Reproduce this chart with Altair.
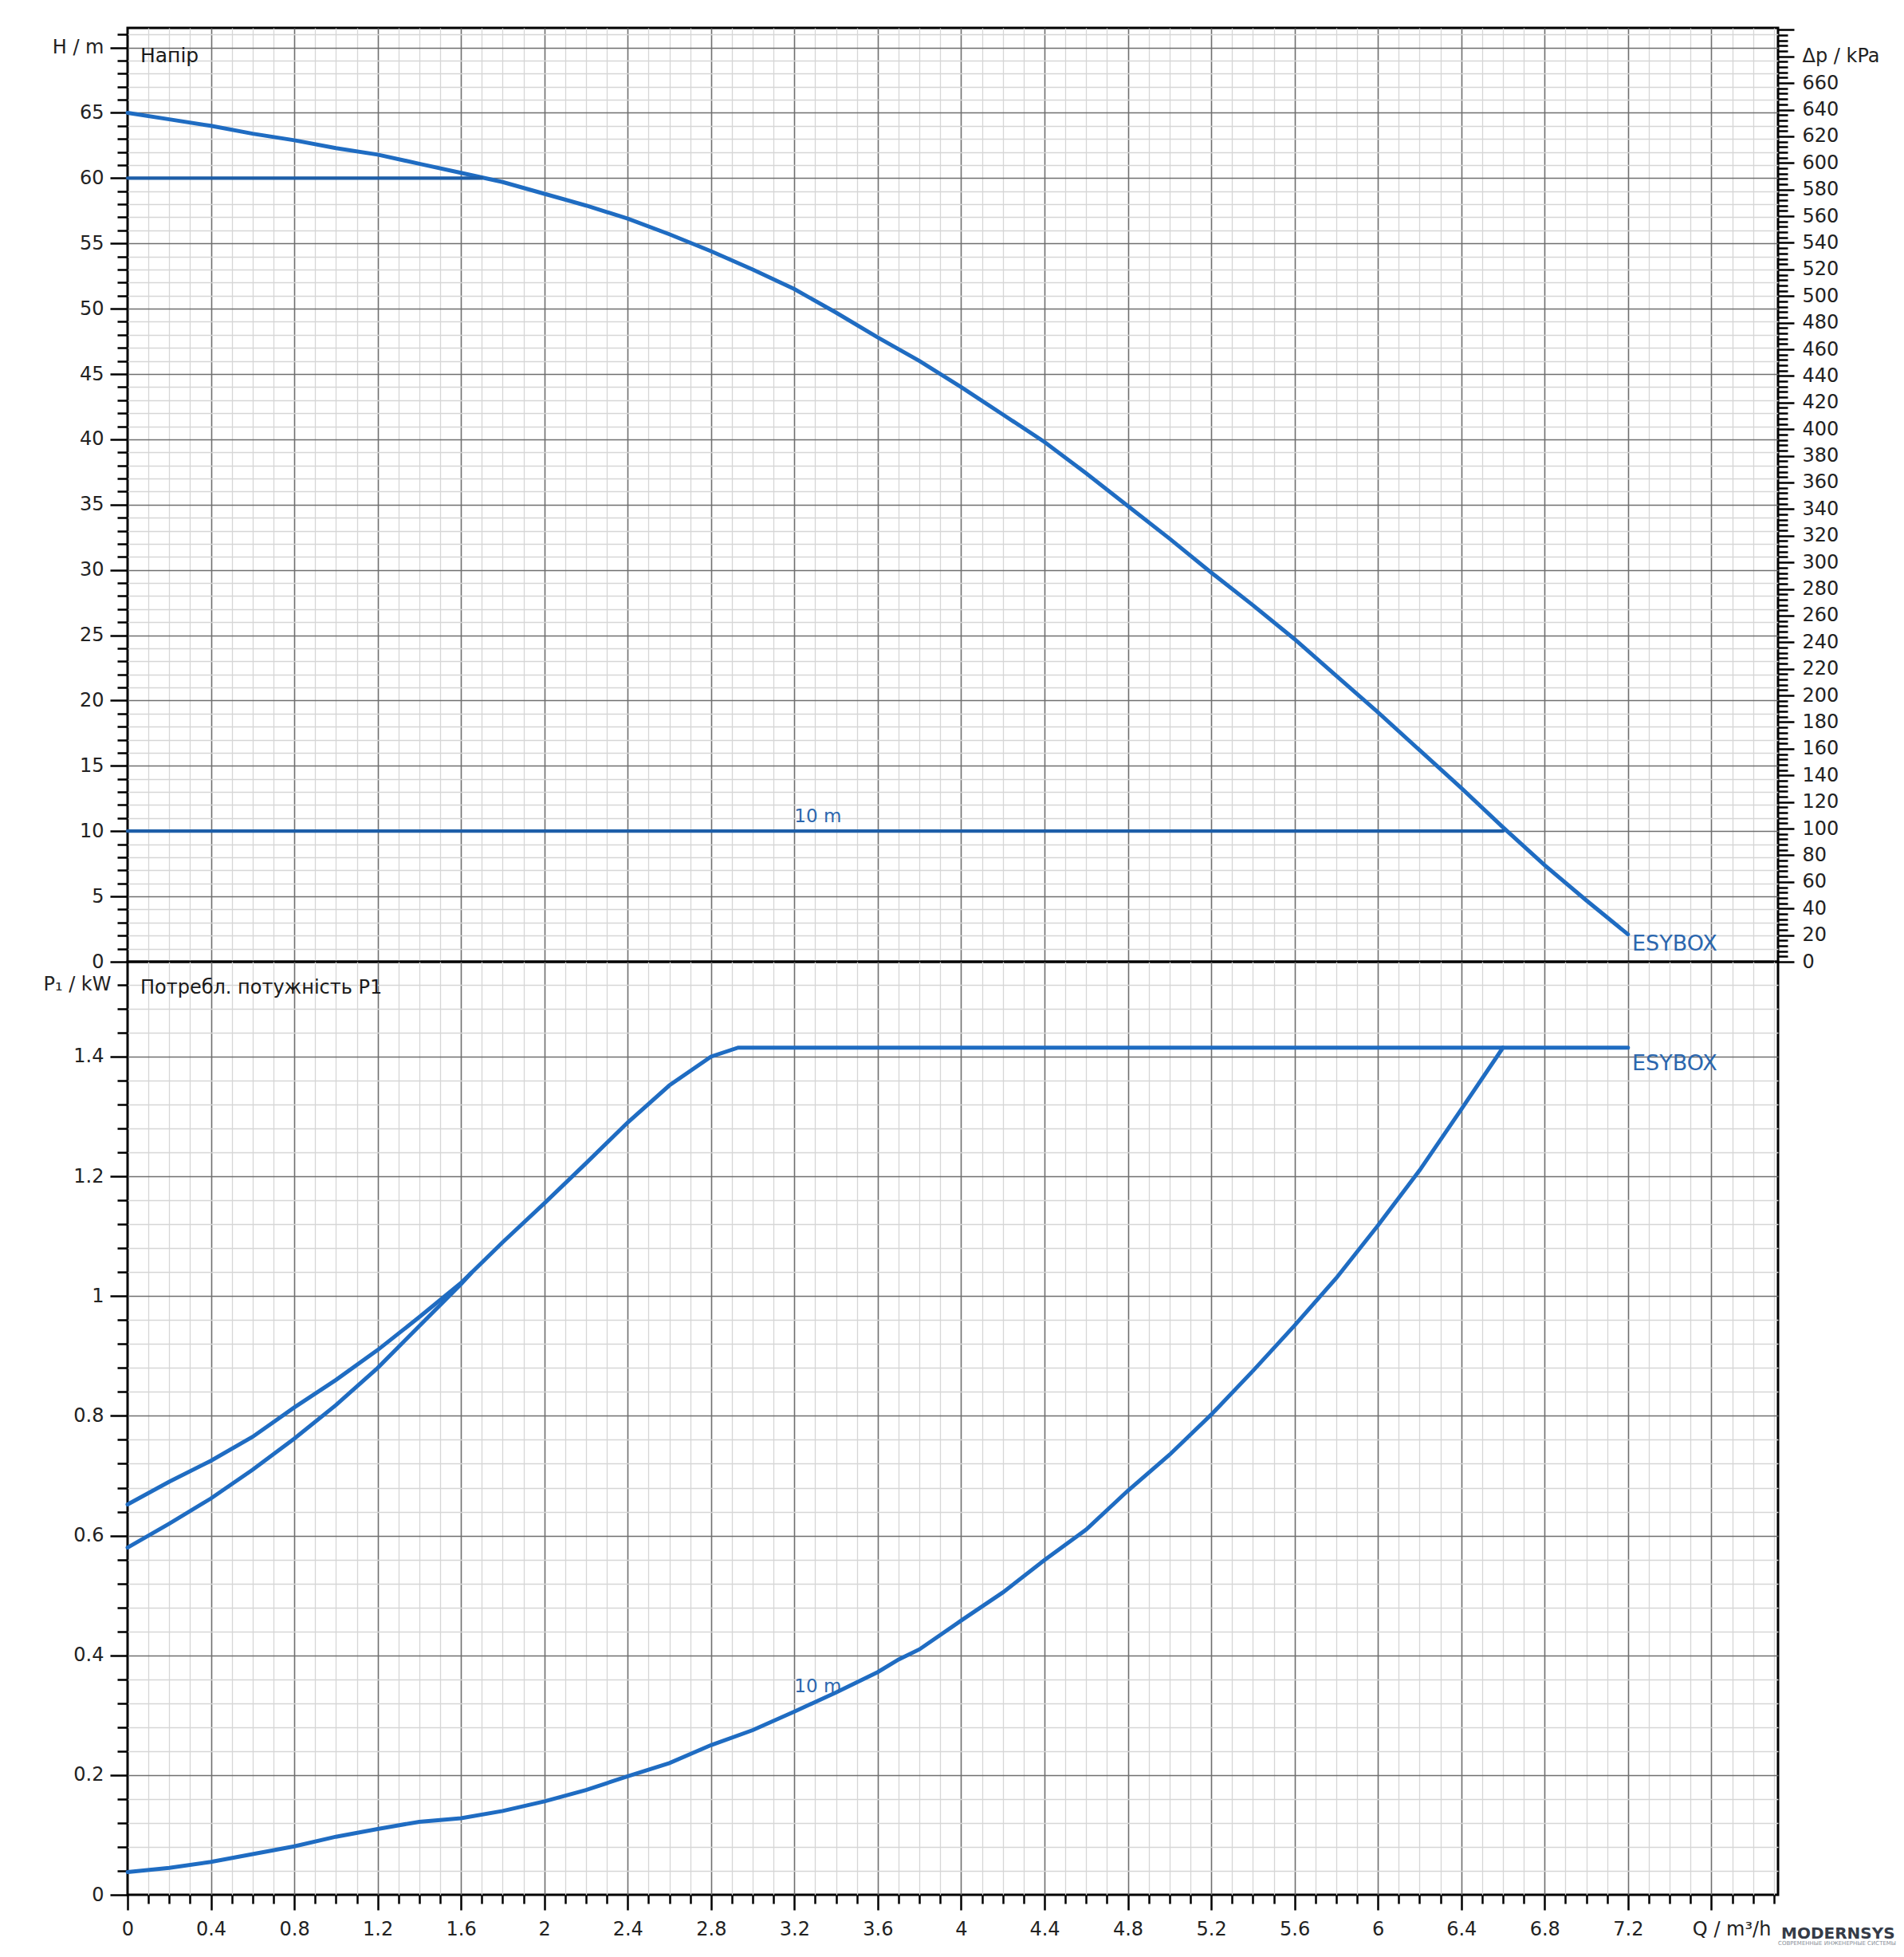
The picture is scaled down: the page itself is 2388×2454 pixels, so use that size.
import altair as alt
import pandas as pd

# ---------------- data ----------------
# Head curve H (m) vs flow Q (m3/h)
Q_ESY = [0, 0.2, 0.4, 0.6, 0.8, 1.0, 1.2, 1.4, 1.6, 1.8, 2.0, 2.2, 2.4, 2.6, 2.8, 3.0,
         3.2, 3.4, 3.6, 3.8, 4.0, 4.2, 4.4, 4.6, 4.8, 5.0, 5.2, 5.4, 5.6, 5.8, 6.0, 6.2,
         6.4, 6.6, 6.8, 7.0, 7.2]
H_ESY = [65.0, 64.5, 64.0, 63.4, 62.9, 62.3, 61.8, 61.1, 60.4, 59.7, 58.8, 57.9, 56.9,
         55.7, 54.4, 53.0, 51.5, 49.7, 47.8, 46.0, 44.0, 41.9, 39.8, 37.4, 34.9, 32.4,
         29.8, 27.3, 24.7, 21.9, 19.1, 16.2, 13.3, 10.3, 7.4, 4.7, 2.1]
Q_SET60 = [0, 1.7]
H_SET60 = [60, 60]
Q_SET10 = [0, 6.6]
H_SET10 = [10, 10]

# Power curve P1 (kW) vs flow Q (m3/h)
Q_P_ESY = [0, 0.2, 0.4, 0.6, 0.8, 1.0, 1.2, 1.4, 1.6, 1.8, 2.0, 2.2, 2.4, 2.6, 2.8, 2.93, 7.2]
P_ESY = [0.652, 0.69, 0.725, 0.765, 0.814, 0.86, 0.91, 0.965, 1.022, 1.09, 1.155, 1.222,
         1.29, 1.352, 1.40, 1.415, 1.415]
Q_P_60 = [0, 0.2, 0.4, 0.6, 0.8, 1.0, 1.2, 1.4, 1.6, 1.65]
P_60 = [0.58, 0.62, 0.662, 0.71, 0.762, 0.818, 0.88, 0.95, 1.02, 1.039]
Q_P_10 = [0, 0.2, 0.4, 0.6, 0.8, 1.0, 1.2, 1.4, 1.6, 1.8, 2.0, 2.2, 2.4, 2.6, 2.8, 3.0,
          3.2, 3.4, 3.6, 3.7, 3.8, 4.0, 4.2, 4.4, 4.6, 4.8, 5.0, 5.2, 5.4, 5.6, 5.8, 6.0,
          6.2, 6.4, 6.6]
P_10 = [0.038, 0.045, 0.055, 0.068, 0.081, 0.097, 0.11, 0.122, 0.128, 0.14, 0.156, 0.175,
        0.198, 0.22, 0.25, 0.275, 0.306, 0.338, 0.372, 0.393, 0.41, 0.458, 0.505, 0.559,
        0.61, 0.675, 0.735, 0.802, 0.875, 0.951, 1.03, 1.118, 1.21, 1.312, 1.415]

# tick positions
X_TICKS = [round(i * 0.1, 1) for i in range(0, 80)]      # 0 .. 7.9
H_TICKS = list(range(0, 72))                              # 0 .. 71 m
KPA_TICKS = list(range(0, 701, 4))                        # 0 .. 700 kPa
P_TICKS = [round(i * 0.04, 2) for i in range(0, 39)]      # 0 .. 1.52 kW

Q_DOMAIN = [0, 7.92]
H_DOMAIN = [0, 71.5]
KPA_DOMAIN = [0, 71.5 * 9.81]
P_DOMAIN = [0, 1.5585]

# ---------------- styling ----------------
BLUE = "#1f6cc2"
BLUE_DARK = "#1d5ea8"
TXT_BLUE = "#2c67ae"
MAJOR_C = "#6f6f6f"
MINOR_C = "#d6d6d6"
FONT = "DejaVu Sans"
W = 2070
H_TOP = 1171
H_BOT = 1170


def cond(test, a, b):
    return {"condition": {"test": test, "value": a}, "value": b}


X_MAJOR = "abs(datum.value / 0.4 - round(datum.value / 0.4)) < 0.001"
Q_TEST = "datum.value > 7.55 && datum.value < 7.65"
H_MAJOR = "datum.value % 5 == 0"
P_MAJOR = "abs(datum.value / 0.2 - round(datum.value / 0.2)) < 0.001"
K_MAJOR = "datum.value % 20 == 0"
ZERO = "datum.value == 0"

grid_x = dict(grid=True, gridColor=cond(X_MAJOR, MAJOR_C, MINOR_C),
              gridWidth=cond(X_MAJOR, 1.6, 1.3), gridOpacity=cond(ZERO, 0, 1))

x_axis_top = alt.Axis(values=X_TICKS, labels=False, ticks=False, domain=False, title=None, **grid_x)
x_axis_bot = alt.Axis(
    values=X_TICKS, domain=False, title=None, ticks=True, tickColor="black", tickWidth=2.5,
    tickSize=cond(X_MAJOR, 19, 11),
    labelExpr=f"({Q_TEST}) ? 'Q / m³/h' : (({X_MAJOR}) && datum.value < 7.3 ? format(datum.value, '~g') : '')",
    labelFontSize=24, labelPadding=12, labelFlush=False, labelOverlap=False, labelColor="#222",
    labelAlign=cond(Q_TEST, "left", "center"), labelOffset=cond(Q_TEST, -24, 0),
    **grid_x)

h_axis = alt.Axis(
    values=H_TICKS, domain=False, title=None, tickColor="black", tickWidth=2.5,
    tickSize=cond(H_MAJOR, 22, 13),
    labelExpr=f"datum.value == 70 ? 'H / m' : (({H_MAJOR}) ? datum.label : '')",
    labelFontSize=24, labelPadding=8, labelOverlap=False, labelFlush=False, labelColor="#222",
    grid=True, gridColor=cond(H_MAJOR, MAJOR_C, MINOR_C), gridWidth=cond(H_MAJOR, 1.6, 1.3),
    gridOpacity=cond(ZERO, 0, 1))

kpa_axis = alt.Axis(
    orient="right", values=KPA_TICKS, domain=False, title=None, tickColor="black", tickWidth=2.5,
    tickSize=cond(K_MAJOR, 20, 12),
    labelExpr=f"datum.value == 680 ? 'Δp / kPa' : (({K_MAJOR}) && datum.value <= 660 ? datum.label : '')",
    labelFontSize=24, labelPadding=10, labelOverlap=False, labelFlush=False, labelColor="#222",
    grid=False)

p_axis = alt.Axis(
    values=P_TICKS, domain=False, title=None, tickColor="black", tickWidth=2.5,
    tickSize=cond(P_MAJOR, 22, 13),
    labelExpr=f"datum.value > 1.5 ? 'P₁ / kW' : (({P_MAJOR}) ? format(datum.value, '~g') : '')",
    labelFontSize=24, labelPadding=8, labelOverlap=False, labelFlush=False, labelColor="#222",
    grid=True, gridColor=cond(P_MAJOR, MAJOR_C, MINOR_C), gridWidth=cond(P_MAJOR, 1.6, 1.3),
    gridOpacity=cond(ZERO, 0, 1))

xs = alt.Scale(domain=Q_DOMAIN, nice=False, zero=False)
hs = alt.Scale(domain=H_DOMAIN, nice=False, zero=False)
ps = alt.Scale(domain=P_DOMAIN, nice=False, zero=False)

X_TOP = alt.X("Q:Q", scale=xs, axis=x_axis_top)
Y_TOP = alt.Y("H:Q", scale=hs, axis=h_axis)
X_BOT = alt.X("Q:Q", scale=xs, axis=x_axis_bot)
Y_BOT = alt.Y("P:Q", scale=ps, axis=p_axis)


def series(qs, vs, name, col, colour, width):
    return pd.DataFrame({"Q": qs, col: vs, "s": name, "c": colour, "w": width})


# ---------------- top panel ----------------
top_df = pd.concat([
    series(Q_ESY, H_ESY, "esybox", "H", BLUE, 5.0),
    series(Q_SET60, H_SET60, "set60", "H", BLUE_DARK, 4.2),
    series(Q_SET10, H_SET10, "set10", "H", BLUE_DARK, 4.2),
], ignore_index=True)

top_lines = alt.Chart(top_df).mark_line(strokeCap="round").encode(
    x=X_TOP, y=Y_TOP, detail="s:N",
    color=alt.Color("c:N", scale=None),
    strokeWidth=alt.StrokeWidth("w:Q", scale=None))

top_title = alt.Chart(pd.DataFrame({"Q": [0.061], "H": [68.9], "t": ["Напір"]})).mark_text(
    align="left", baseline="alphabetic", font=FONT, fontSize=25, color="#1a1a1a").encode(
    x=X_TOP, y=Y_TOP, text="t:N")
top_10 = alt.Chart(pd.DataFrame({"Q": [3.2], "H": [10.7], "t": ["10 m"]})).mark_text(
    align="left", baseline="alphabetic", font=FONT, fontSize=23, color=TXT_BLUE).encode(
    x=X_TOP, y=Y_TOP, text="t:N")
top_esy = alt.Chart(pd.DataFrame({"Q": [7.22], "H": [0.85], "t": ["ESYBOX"]})).mark_text(
    align="left", baseline="alphabetic", font=FONT, fontSize=27, color=TXT_BLUE).encode(
    x=X_TOP, y=Y_TOP, text="t:N")

top_inner = alt.layer(top_lines, top_title, top_10, top_esy)

kpa_layer = alt.Chart(pd.DataFrame({"kPa": [0, 700]})).mark_point(opacity=0).encode(
    y=alt.Y("kPa:Q", scale=alt.Scale(domain=KPA_DOMAIN, nice=False, zero=False), axis=kpa_axis))

top = alt.layer(top_inner, kpa_layer).resolve_scale(y="independent").properties(width=W, height=H_TOP)

# ---------------- bottom panel ----------------
bot_df = pd.concat([
    series(Q_P_ESY, P_ESY, "esybox", "P", BLUE, 5.0),
    series(Q_P_60, P_60, "set60", "P", BLUE, 5.0),
    series(Q_P_10, P_10, "set10", "P", BLUE, 5.0),
], ignore_index=True)

bot_lines = alt.Chart(bot_df).mark_line(strokeCap="round").encode(
    x=X_BOT, y=Y_BOT, detail="s:N",
    color=alt.Color("c:N", scale=None),
    strokeWidth=alt.StrokeWidth("w:Q", scale=None))

bot_title = alt.Chart(pd.DataFrame({"Q": [0.061], "P": [1.505], "t": ["Потребл. потужність P1"]})).mark_text(
    align="left", baseline="alphabetic", font=FONT, fontSize=24, color="#1a1a1a").encode(
    x=X_BOT, y=Y_BOT, text="t:N")
bot_10 = alt.Chart(pd.DataFrame({"Q": [3.2], "P": [0.338], "t": ["10 m"]})).mark_text(
    align="left", baseline="alphabetic", font=FONT, fontSize=23, color=TXT_BLUE).encode(
    x=X_BOT, y=Y_BOT, text="t:N")
bot_esy = alt.Chart(pd.DataFrame({"Q": [7.22], "P": [1.377], "t": ["ESYBOX"]})).mark_text(
    align="left", baseline="alphabetic", font=FONT, fontSize=27, color=TXT_BLUE).encode(
    x=X_BOT, y=Y_BOT, text="t:N")

# watermark of the source, bottom-right corner
logo = alt.Chart(pd.DataFrame({"t": ["MODERNSYS"]})).mark_text(
    align="left", baseline="alphabetic", font="DejaVu Sans", fontWeight="bold", fontSize=20,
    color="#353b47").encode(x=alt.value(2074), y=alt.value(1225), text="t:N")
logo_sub = alt.Chart(pd.DataFrame({"t": ["СОВРЕМЕННЫЕ ИНЖЕНЕРНЫЕ СИСТЕМЫ"]})).mark_text(
    align="left", baseline="alphabetic", font="DejaVu Sans", fontSize=7,
    color="#8a8f99").encode(x=alt.value(2070), y=alt.value(1233), text="t:N")

bottom = alt.layer(bot_lines, bot_title, bot_10, bot_esy, logo, logo_sub).properties(width=W, height=H_BOT)

chart = alt.vconcat(top, bottom, spacing=0, bounds="flush").properties(
    padding={"left": 44, "top": 15, "right": 0, "bottom": 0},
    background="white",
).configure_view(stroke="black", strokeWidth=3).configure_axis(labelFont=FONT)

chart.save("out.html", embed_options={"renderer": "svg", "actions": False})
